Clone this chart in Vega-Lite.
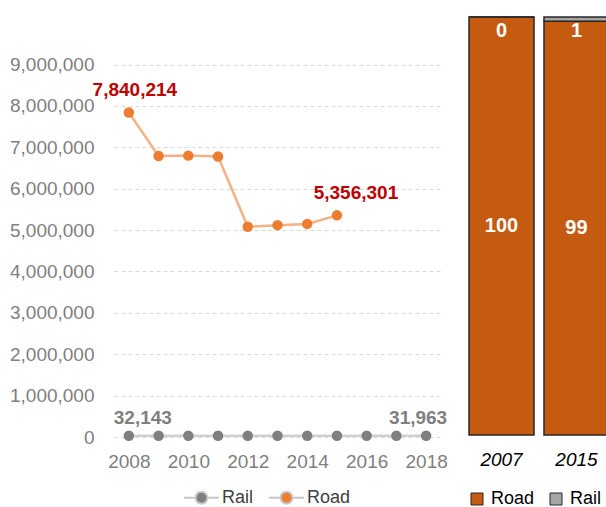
{
  "$schema": "https://vega.github.io/schema/vega-lite/v6.json",
  "background": "white",
  "padding": {"left": 0, "top": 16, "right": 0, "bottom": 0},
  "config": {
    "view": {"stroke": null},
    "font": "Liberation Sans",
    "axis": {"labelFont": "Liberation Sans"},
    "legend": {"labelFont": "Liberation Sans"},
    "text": {"font": "Liberation Sans"}
  },
  "spacing": 16,
  "resolve": {
    "scale": {"color": "independent", "x": "independent", "y": "independent"},
    "legend": {"color": "independent"}
  },
  "hconcat": [
    {
      "width": 327,
      "height": 420,
      "data": {
        "values": [
          {"year": 2008, "mode": "Road", "value": 7840214},
          {"year": 2009, "mode": "Road", "value": 6790000},
          {"year": 2010, "mode": "Road", "value": 6800000},
          {"year": 2011, "mode": "Road", "value": 6780000},
          {"year": 2012, "mode": "Road", "value": 5080000},
          {"year": 2013, "mode": "Road", "value": 5120000},
          {"year": 2014, "mode": "Road", "value": 5150000},
          {"year": 2015, "mode": "Road", "value": 5356301},
          {"year": 2008, "mode": "Rail", "value": 32143},
          {"year": 2009, "mode": "Rail", "value": 32000},
          {"year": 2010, "mode": "Rail", "value": 32000},
          {"year": 2011, "mode": "Rail", "value": 32000},
          {"year": 2012, "mode": "Rail", "value": 32000},
          {"year": 2013, "mode": "Rail", "value": 32000},
          {"year": 2014, "mode": "Rail", "value": 32000},
          {"year": 2015, "mode": "Rail", "value": 32000},
          {"year": 2016, "mode": "Rail", "value": 32000},
          {"year": 2017, "mode": "Rail", "value": 32000},
          {"year": 2018, "mode": "Rail", "value": 31963}
        ]
      },
      "encoding": {
        "x": {
          "field": "year", "type": "quantitative",
          "scale": {"domain": [2007.5, 2018.5], "nice": false, "zero": false},
          "axis": {"title": null, "values": [2008, 2010, 2012, 2014, 2016, 2018], "format": "d", "grid": false, "domain": false, "ticks": false, "labelColor": "#7f7f7f", "labelFontSize": 19, "labelPadding": 15, "labelFlush": false, "labelOverlap": false}
        },
        "y": {
          "field": "value", "type": "quantitative",
          "scale": {"domain": [0, 10150000], "nice": false},
          "axis": {"title": null, "values": [0, 1000000, 2000000, 3000000, 4000000, 5000000, 6000000, 7000000, 8000000, 9000000], "format": ",d", "grid": true, "gridDash": [4, 3], "gridColor": "#d9d9d9", "gridWidth": 1, "domain": false, "ticks": false, "labelColor": "#7f7f7f", "labelFontSize": 19, "labelPadding": 20, "labelFlush": false, "labelOverlap": false, "minExtent": 114, "maxExtent": 114}
        }
      },
      "layer": [
        {
          "mark": {"type": "line", "strokeWidth": 2.5},
          "encoding": {
            "stroke": {"field": "mode", "type": "nominal", "scale": {"domain": ["Rail", "Road"], "range": ["#d0d0d0", "#F4B183"]}, "legend": null}
          }
        },
        {
          "mark": {"type": "point", "filled": true, "size": 110, "opacity": 1},
          "encoding": {
            "color": {
              "field": "mode", "type": "nominal",
              "scale": {"domain": ["Rail", "Road"], "range": ["#7f7f7f", "#ED7D31"]},
              "legend": {
                "orient": "none", "legendX": 69, "legendY": 462, "direction": "horizontal", "title": null,
                "symbolType": "M-1,0L-0.34,0M0.34,0L1,0M0.34,0A0.34,0.34,0,1,1,-0.34,0A0.34,0.34,0,1,1,0.34,0Z",
                "symbolSize": 1225, "symbolStrokeWidth": 2, "symbolStrokeColor": "#c8c8c8",
                "labelFontSize": 18, "labelColor": "#404040", "labelOffset": 2, "columnPadding": 11,
                "encode": {
                  "symbols": {
                    "enter": {
                      "stroke": {"signal": "datum.value === 'Rail' ? '#c8c8c8' : '#F4B183'"},
                      "strokeOpacity": {"value": 1},
                      "strokeWidth": {"value": 2}
                    },
                    "update": {
                      "fill": {"signal": "datum.value === 'Rail' ? '#7f7f7f' : '#ED7D31'"},
                      "stroke": {"signal": "datum.value === 'Rail' ? '#c8c8c8' : '#F4B183'"},
                      "strokeOpacity": {"value": 1},
                      "strokeWidth": {"value": 2},
                      "opacity": {"value": 1}
                    }
                  }
                }
              }
            }
          }
        },
        {
          "transform": [{"filter": "datum.mode === 'Road' && datum.year === 2008"}],
          "mark": {"type": "text", "fontWeight": "bold", "fontSize": 19, "color": "#C00000", "dx": 6, "dy": -23, "baseline": "middle"},
          "encoding": {"text": {"field": "value", "type": "quantitative", "format": ",d"}}
        },
        {
          "transform": [{"filter": "datum.mode === 'Road' && datum.year === 2015"}],
          "mark": {"type": "text", "fontWeight": "bold", "fontSize": 19, "color": "#C00000", "dx": 19, "dy": -22, "baseline": "middle"},
          "encoding": {"text": {"field": "value", "type": "quantitative", "format": ",d"}}
        },
        {
          "transform": [{"filter": "datum.mode === 'Rail' && datum.year === 2008"}],
          "mark": {"type": "text", "fontWeight": "bold", "fontSize": 19, "color": "#7f7f7f", "dx": 14, "dy": -18, "baseline": "middle"},
          "encoding": {"text": {"field": "value", "type": "quantitative", "format": ",d"}}
        },
        {
          "transform": [{"filter": "datum.mode === 'Rail' && datum.year === 2018"}],
          "mark": {"type": "text", "fontWeight": "bold", "fontSize": 19, "color": "#7f7f7f", "dx": -8, "dy": -18, "baseline": "middle"},
          "encoding": {"text": {"field": "value", "type": "quantitative", "format": ",d"}}
        }
      ]
    },
    {
      "width": 150,
      "height": 418,
      "data": {
        "values": [
          {"year": "2007", "mode": "Road", "pct": 100},
          {"year": "2007", "mode": "Rail", "pct": 0},
          {"year": "2015", "mode": "Road", "pct": 99},
          {"year": "2015", "mode": "Rail", "pct": 1}
        ]
      },
      "encoding": {
        "x": {
          "field": "year", "type": "nominal",
          "scale": {"paddingInner": 0.133, "paddingOuter": 0.067},
          "axis": {"title": null, "labelAngle": 0, "labelFontStyle": "italic", "labelColor": "#000000", "labelFontSize": 19, "domain": false, "ticks": false, "labelPadding": 15}
        }
      },
      "layer": [
        {
          "mark": {"type": "bar", "stroke": "#262626", "strokeWidth": 1.5},
          "encoding": {
            "y": {"field": "pct", "type": "quantitative", "stack": "zero", "scale": {"domain": [0, 100], "nice": false}, "axis": null},
            "color": {
              "field": "mode", "type": "nominal",
              "scale": {"domain": ["Road", "Rail"], "range": ["#C55A11", "#A5A5A5"]},
              "legend": {"orient": "none", "legendX": 4, "legendY": 473, "direction": "horizontal", "title": null, "symbolType": "square", "symbolSize": 144, "symbolStrokeColor": "#262626", "symbolStrokeWidth": 1, "labelFontSize": 18, "labelColor": "#000000", "labelOffset": 5, "columnPadding": 12}
            },
            "order": {"field": "mode", "sort": "descending"}
          }
        },
        {
          "mark": {"type": "text", "baseline": "top", "dy": 4, "color": "white", "fontWeight": "bold", "fontSize": 20},
          "encoding": {
            "y": {"field": "pct", "type": "quantitative", "stack": "zero"},
            "detail": {"field": "mode"},
            "order": {"field": "mode", "sort": "descending"},
            "text": {"condition": {"test": "datum.mode === 'Rail'", "field": "pct", "type": "quantitative"}, "value": ""}
          }
        },
        {
          "transform": [{"filter": "datum.mode === 'Road'"}],
          "mark": {"type": "text", "baseline": "middle", "color": "white", "fontWeight": "bold", "fontSize": 20},
          "encoding": {
            "y": {"field": "pct", "type": "quantitative", "stack": "zero", "bandPosition": 0.5},
            "text": {"field": "pct", "type": "quantitative"}
          }
        }
      ]
    }
  ]
}
